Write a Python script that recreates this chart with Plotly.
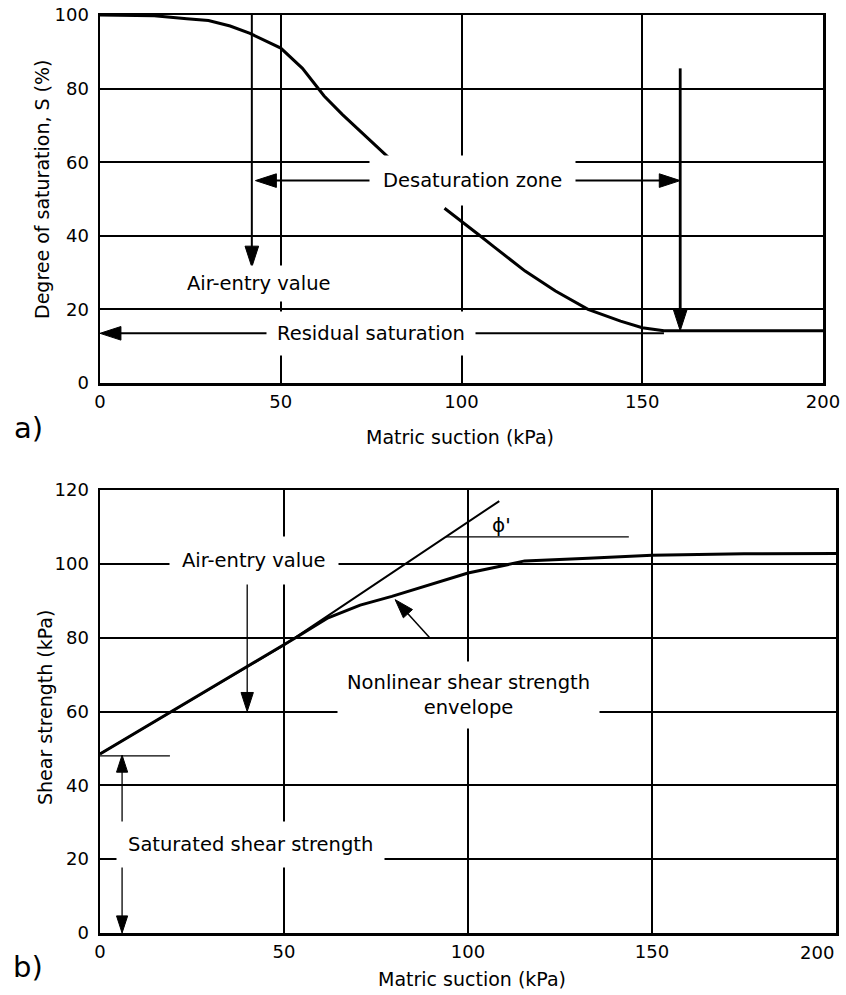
import plotly.graph_objects as go

# ---------------- data ----------------
# a) degree of saturation vs matric suction
sat_suction = [0, 15, 24, 30, 36, 41.5, 50, 56, 60, 62, 67, 75, 82, None,
               95.3, 100, 104.5, 109, 117.6, 126, 135, 144, 150, 156, 170, 185, 200]
sat_degree = [100, 99.8, 99, 98.5, 97, 95, 91, 85.5, 80.5, 78, 73, 65.7, 59.3, None,
              47.5, 44, 40.5, 37, 30.4, 25, 20, 16.8, 15, 14.2, 14.2, 14.2, 14.2]

# b) shear strength vs matric suction
shear_suction = [0, 20, 40, 50, 53.5, 62, 70.7, 79.3, 88, 100, 110.4, 115.4, 132.7, 150, 175, 200]
shear_strength = [48.5, 60.3, 72.2, 78, 80.2, 85.4, 88.8, 91.2, 93.9, 97.5, 99.7, 100.8, 101.5, 102.3, 102.7, 102.8]

# straight (phi') envelope
phi_suction = [0, 50, 108.5]
phi_strength = [48.5, 78, 117]

# annotation arrows / reference lines, data coordinates (start -> tip)
a_air_entry_x, a_air_entry_y = [42, 42], [100, 31.5]
a_desat_left_x, a_desat_left_y = [103, 43], [55, 55]
a_desat_right_x, a_desat_right_y = [103, 160.5], [55, 55]
a_residual_x, a_residual_y = [156, 0], [13.5, 13.5]
a_residual_drop_x, a_residual_drop_y = [160.5, 160.5], [85.5, 14.2]

b_air_entry_x, b_air_entry_y = [40, 40], [96.7, 60]
b_sat_up_x, b_sat_up_y = [6, 6], [24, 48.2]
b_sat_down_x, b_sat_down_y = [6, 6], [24, 0]
b_nonlin_x, b_nonlin_y = [89.6, 80.2], [80, 90.3]
b_sat_ref_x, b_sat_ref_y = [0, 19], [48, 48]
b_phi_ref_x, b_phi_ref_y = [94, 143.7], [107.3, 107.3]

x_ticks = [0, 50, 100, 150, 200]
x_tick_text = ["0", "50", "100", "150", "200"]
y_ticks_a = [0, 20, 40, 60, 80, 100]
y_ticks_b = [0, 20, 40, 60, 80, 100, 120]

# ---------------- figure ----------------
W, H = 846, 995
FONT = "DejaVu Sans"
fig = go.Figure()


def line(xs, ys, ax, width):
    fig.add_trace(go.Scatter(x=xs, y=ys, mode="lines", xaxis=ax[0], yaxis=ax[1],
                             line=dict(color="black", width=width),
                             hoverinfo="skip", showlegend=False))


def arrow(xs, ys, ax, width, head):
    fig.add_trace(go.Scatter(x=xs, y=ys, mode="lines+markers", xaxis=ax[0], yaxis=ax[1],
                             line=dict(color="black", width=width),
                             marker=dict(symbol="arrow", angleref="previous",
                                         size=[0] * (len(xs) - 1) + [head], color="black",
                                         opacity=1, line=dict(width=1, color="black")),
                             hoverinfo="skip", showlegend=False))


A = ("x", "y")
B = ("x2", "y2")

line(sat_suction, sat_degree, A, 3)
arrow(a_air_entry_x, a_air_entry_y, A, 2, 22)
arrow(a_desat_left_x, a_desat_left_y, A, 2, 22)
arrow(a_desat_right_x, a_desat_right_y, A, 2, 22)
arrow(a_residual_x, a_residual_y, A, 2, 22)
arrow(a_residual_drop_x, a_residual_drop_y, A, 2.8, 22)

line(shear_suction, shear_strength, B, 3)
line(phi_suction, phi_strength, B, 2)
line(b_sat_ref_x, b_sat_ref_y, B, 1.3)
line(b_phi_ref_x, b_phi_ref_y, B, 1.3)
arrow(b_air_entry_x, b_air_entry_y, B, 1.3, 20)
arrow(b_sat_up_x, b_sat_up_y, B, 1.3, 18)
arrow(b_sat_down_x, b_sat_down_y, B, 1.3, 18)
arrow(b_nonlin_x, b_nonlin_y, B, 1.5, 20)

TICKF = dict(family=FONT, size=18, color="black")
axis_common = dict(showgrid=True, gridcolor="black", gridwidth=2, zeroline=False,
                   showline=True, linecolor="black", linewidth=2.5, mirror=True,
                   ticks="", tickfont=TICKF, fixedrange=True, automargin=False)

fig.update_layout(
    template="none",
    width=W, height=H, autosize=False,
    margin=dict(l=0, r=0, t=0, b=0, pad=0, autoexpand=False),
    paper_bgcolor="white", plot_bgcolor="white",
    showlegend=False,
    xaxis=dict(axis_common, domain=[100 / W, 823 / W], range=[0, 200],
               tickvals=x_ticks, ticktext=x_tick_text, anchor="y", ticklabelstandoff=1),
    yaxis=dict(axis_common, domain=[1 - 383 / H, 1 - 15 / H], range=[0, 100],
               tickvals=y_ticks_a, anchor="x", ticklabelstandoff=5),
    # last label of the lower axis is written separately (right-aligned at the axis end)
    xaxis2=dict(axis_common, domain=[100 / W, 836 / W], range=[0, 200],
                tickvals=x_ticks, ticktext=x_tick_text[:-1] + [""], anchor="y2",
                ticklabelstandoff=1),
    yaxis2=dict(axis_common, domain=[1 - 933 / H, 1 - 490 / H], range=[0, 120],
                tickvals=y_ticks_b, anchor="x2", ticklabelstandoff=5),
)

fig.add_annotation(text=x_tick_text[-1], x=x_ticks[-1], xref="x2", y=1 - 952 / H, yref="paper",
                   showarrow=False, font=TICKF, xanchor="right", yanchor="middle")

LF = dict(family=FONT, size=19.5, color="black")


def label(text, x, y, xr, yr, pad, bg=True, font=LF):
    fig.add_annotation(text=text, x=x, y=y, xref=xr, yref=yr, showarrow=False,
                       font=font, bgcolor="white" if bg else None, borderpad=pad,
                       xanchor="center", yanchor="middle", align="center")


# a) labels
label("Air-entry value", 44, 27, "x", "y", 6)
label("Desaturation zone", 103, 55, "x", "y", 13)
label("Residual saturation", 75, 13.5, "x", "y", 10)
# b) labels
label("Air-entry value", 41.8, 101, "x2", "y2", 12)
label("Nonlinear shear strength<br>envelope", 100, 64.5, "x2", "y2", 9)
label("Saturated shear strength", 41, 24, "x2", "y2", 11)
label("\u03d5'", 109, 110.5, "x2", "y2", 0, bg=False, font=dict(family=FONT, size=20, color="black"))

TF = dict(family=FONT, size=19, color="black")


def ptext(text, px, py, angle=0, font=TF):
    fig.add_annotation(text=text, x=px / W, y=1 - py / H, xref="paper", yref="paper",
                       showarrow=False, font=font, textangle=angle,
                       xanchor="center", yanchor="middle")


ptext("Degree of saturation, S (%)", 42, 189, -90)
ptext("Matric suction (kPa)", 460, 437)
ptext("a)", 28, 428, font=dict(family=FONT, size=29, color="black"))
ptext("Shear strength (kPa)", 45, 708, -90)
ptext("Matric suction (kPa)", 472, 979)
ptext("b)", 28, 967, font=dict(family=FONT, size=29, color="black"))

fig.write_html("out.html", config={"displayModeBar": False, "staticPlot": True},
               post_script="document.body.style.margin='0';document.body.style.overflow='hidden';")
